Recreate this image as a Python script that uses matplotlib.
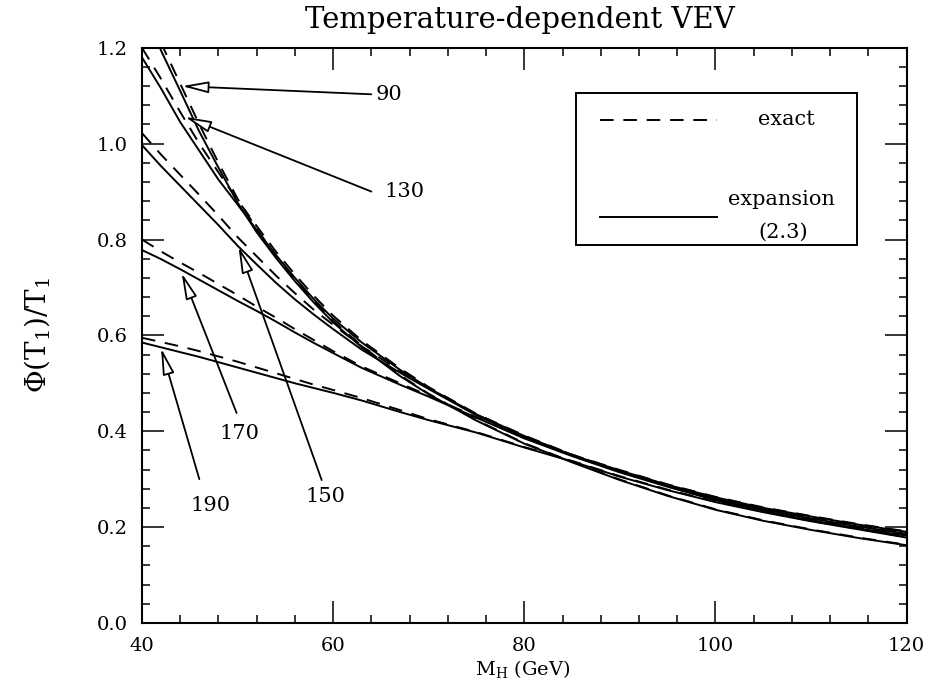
import matplotlib

matplotlib.use("Agg")

import matplotlib.pyplot as plt
from matplotlib.ticker import MultipleLocator

plt.rcParams["font.family"] = ["DejaVu Serif"]
plt.rcParams["mathtext.fontset"] = "dejavuserif"

# Higgs mass grid (GeV)
m_h = [40, 42, 44, 46, 48, 50, 52, 54, 56, 58, 60, 63, 67, 70, 75, 80,
       85, 90, 95, 100, 105, 110, 115, 120]

# expansion (2.3), solid curves, keyed by curve label
exp_90 = [1.285, 1.194, 1.11, 1.025, 0.95, 0.877, 0.815, 0.762, 0.713, 0.668,
          0.627, 0.575, 0.515, 0.477, 0.422, 0.374, 0.335, 0.298, 0.265,
          0.236, 0.213, 0.194, 0.177, 0.162]
exp_130 = [1.18, 1.115, 1.045, 0.985, 0.925, 0.873, 0.82, 0.768, 0.72, 0.675,
           0.635, 0.585, 0.528, 0.49, 0.435, 0.39, 0.35, 0.318, 0.288, 0.262,
           0.24, 0.222, 0.205, 0.19]
exp_150 = [0.997, 0.953, 0.912, 0.871, 0.83, 0.787, 0.748, 0.71, 0.675, 0.643,
           0.613, 0.57, 0.522, 0.488, 0.433, 0.388, 0.35, 0.316, 0.286, 0.259,
           0.237, 0.218, 0.201, 0.186]
exp_170 = [0.778, 0.759, 0.738, 0.716, 0.694, 0.672, 0.651, 0.629, 0.606,
           0.584, 0.563, 0.532, 0.497, 0.472, 0.428, 0.385, 0.348, 0.314,
           0.284, 0.256, 0.234, 0.214, 0.197, 0.182]
exp_190 = [0.585, 0.575, 0.565, 0.555, 0.544, 0.533, 0.522, 0.511, 0.5, 0.49,
           0.48, 0.464, 0.44, 0.423, 0.397, 0.366, 0.337, 0.305, 0.277,
           0.252, 0.231, 0.212, 0.195, 0.178]

# exact, dashed curves
exact_90 = [1.3, 1.21, 1.125, 1.04, 0.96, 0.885, 0.822, 0.767, 0.717, 0.671,
            0.63, 0.578, 0.517, 0.478, 0.423, 0.375, 0.336, 0.299, 0.266,
            0.237, 0.214, 0.195, 0.178, 0.163]
exact_130 = [1.2, 1.135, 1.066, 1.0, 0.94, 0.882, 0.828, 0.775, 0.727, 0.682,
             0.641, 0.589, 0.531, 0.492, 0.436, 0.391, 0.351, 0.319, 0.289,
             0.263, 0.241, 0.223, 0.206, 0.191]
exact_150 = [1.022, 0.977, 0.935, 0.893, 0.85, 0.805, 0.765, 0.725, 0.688,
             0.653, 0.622, 0.577, 0.526, 0.49, 0.434, 0.389, 0.351, 0.317,
             0.287, 0.26, 0.238, 0.219, 0.202, 0.187]
exact_170 = [0.8, 0.775, 0.752, 0.73, 0.707, 0.684, 0.66, 0.637, 0.613, 0.59,
             0.567, 0.535, 0.5, 0.474, 0.429, 0.386, 0.349, 0.315, 0.285,
             0.257, 0.235, 0.215, 0.198, 0.183]
exact_190 = [0.595, 0.586, 0.577, 0.567, 0.556, 0.545, 0.533, 0.521, 0.509,
             0.497, 0.486, 0.469, 0.444, 0.425, 0.398, 0.367, 0.338, 0.306,
             0.278, 0.253, 0.232, 0.213, 0.196, 0.179]

expansion = [exp_90, exp_130, exp_150, exp_170, exp_190]
exact = [exact_90, exact_130, exact_150, exact_170, exact_190]

# curve labels: text, label position, arrow tail, arrow tip (data coords)
labels = ["90", "130", "150", "170", "190"]
label_pos = [(64.4, 1.103), (65.4, 0.9), (59.2, 0.264), (50.2, 0.396), (47.2, 0.246)]
arrow_tail = [(64.0, 1.103), (64.0, 0.9), (58.8, 0.298), (49.9, 0.438), (46.0, 0.30)]
arrow_tip = [(44.2, 1.12), (44.5, 1.056), (50.1, 0.785), (44.15, 0.73), (42.0, 0.573)]
label_align = ["left", "left", "center", "center", "center"]

fig = plt.figure(figsize=(9.28, 6.83), dpi=100)
ax = fig.add_axes([0.153, 0.088, 0.824, 0.842])

for ys in expansion:
    ax.plot(m_h, ys, color="black", lw=1.4, solid_joinstyle="round")
for ys in exact:
    ax.plot(m_h, ys, color="black", lw=1.4, dashes=(7, 5))

for text, pos, tail, tip, ha in zip(labels, label_pos, arrow_tail, arrow_tip, label_align):
    ax.annotate(
        "",
        xy=tip,
        xytext=tail,
        arrowprops=dict(
            arrowstyle="-|>,head_length=1.0,head_width=0.22",
            fc="white",
            ec="black",
            lw=1.3,
            shrinkA=0,
            shrinkB=0,
            mutation_scale=16,
        ),
    )
    ax.text(pos[0], pos[1], text, ha=ha, va="center", fontsize=15)

# legend drawn by hand, like the original
lx = [0.599, 0.752]
ax.plot(lx, [0.875, 0.875], transform=ax.transAxes, color="black", lw=1.4, dashes=(7, 5))
ax.plot(lx, [0.706, 0.706], transform=ax.transAxes, color="black", lw=1.4)
ax.add_patch(plt.Rectangle((0.567, 0.657), 0.368, 0.265, transform=ax.transAxes,
                           fill=False, ec="black", lw=1.4))
ax.text(0.805, 0.875, "exact", transform=ax.transAxes, va="center", fontsize=15)
ax.text(0.766, 0.736, "expansion", transform=ax.transAxes, va="center", fontsize=15)
ax.text(0.839, 0.68, "(2.3)", transform=ax.transAxes, ha="center", va="center", fontsize=15)

ax.set_xlim(40, 120)
ax.set_ylim(0, 1.2)
ax.xaxis.set_major_locator(MultipleLocator(20))
ax.xaxis.set_minor_locator(MultipleLocator(4))
ax.yaxis.set_major_locator(MultipleLocator(0.2))
ax.yaxis.set_minor_locator(MultipleLocator(0.04))
ax.yaxis.set_major_formatter(plt.FuncFormatter(lambda v, _: f"{v:.1f}"))
ax.tick_params(which="both", direction="in", top=True, right=True, width=1.1,
               labelsize=14)
ax.tick_params(which="major", length=16, pad=10)
ax.tick_params(axis="y", which="major", pad=10)
ax.tick_params(which="minor", length=6)
for spine in ax.spines.values():
    spine.set_linewidth(1.5)

fig.text(0.56, 0.971, "Temperature-dependent VEV", ha="center", va="center", fontsize=21)
fig.text(0.04, 0.51, r"$\Phi$(T$_1$)/T$_1$", rotation=90, ha="center", va="center",
         fontsize=20)
fig.text(0.563, 0.02, r"M$_\mathrm{H}$ (GeV)", ha="center", va="center", fontsize=14)

fig.savefig("out.png", dpi=100)
